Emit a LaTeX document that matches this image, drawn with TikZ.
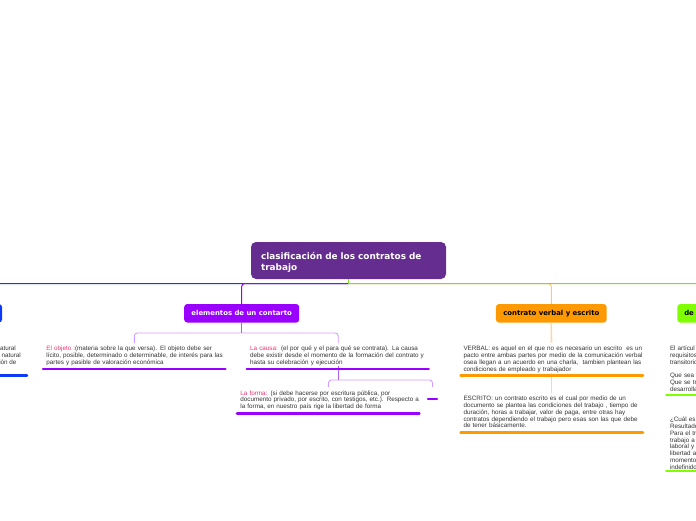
\documentclass[tikz,border=0pt]{standalone}
\usepackage{fontspec}
\setmainfont{Liberation Sans}
\newfontfamily\headfont{DejaVu Sans}
\definecolor{titlec}{HTML}{662D91}
\definecolor{vio}{HTML}{9900FF}
\definecolor{vioL}{HTML}{D29BFF}
\definecolor{vioM}{HTML}{B060F5}
\definecolor{ora}{HTML}{FF9900}
\definecolor{oraL}{HTML}{FFD7A6}
\definecolor{oraM}{HTML}{FFC777}
\definecolor{grn}{HTML}{80FF00}
\definecolor{grnL}{HTML}{7EE01A}
\definecolor{blu}{HTML}{0D3BF5}
\definecolor{txt}{HTML}{333333}
\definecolor{labpink}{HTML}{E8336E}
\newcommand\firstln{\rule{0pt}{5pt}}
\begin{document}
\begin{tikzpicture}[x=1pt,y=-1pt,
  branchbox/.style={rounded corners=3pt, inner sep=0pt, minimum height=18.5pt,
    font=\headfont\bfseries\fontsize{6.9}{8}\selectfont},
  bodytext/.style={anchor=north west, align=left, inner xsep=4.5pt, inner ysep=0pt,
    text width=176pt, text=txt, font=\fontsize{6.3}{6.75}\selectfont},
  fragtext/.style={anchor=base east, inner sep=0pt, text=txt, font=\fontsize{6.3}{6.75}\selectfont},
  uline/.style={line width=2.6pt, line cap=round},
  mainconn/.style={line width=1pt},
  subconn/.style={line width=0.9pt, rounded corners=3pt}]
\useasboundingbox (0,0) rectangle (696,520);
\clip (0,0) rectangle (696,520);

% ---- nodes ----
\node[fill=titlec, text=white, rounded corners=5pt, minimum width=195pt, minimum height=37pt,
  text width=175pt, align=left, inner sep=0pt,
  font=\headfont\bfseries\fontsize{8.9}{11}\selectfont] (title) at (348.5,260.5)
  {\rule{0pt}{10pt}clasificación de los contratos de\\trabajo};
\node[branchbox, fill=blu, minimum width=100pt] (izq) at (-48,313.3) {};
\node[branchbox, fill=vio, text=white, minimum width=115pt] (elem) at (241.7,313.3) {elementos de un contarto};
\node[branchbox, fill=ora, text=black, minimum width=110.7pt] (verb) at (551.3,313.3) {contrato verbal y escrito};
\node[branchbox, fill=grn, text=black, minimum width=100pt, text width=86pt, align=left] (dere) at (727.3,313.3) {de};

\node[bodytext] (objeto) at (41.7,345.6) {\firstln\mbox{\textcolor{labpink}{El objeto :}(materia sobre la que versa). El objeto debe ser}\\
\mbox{lícito, posible, determinado o determinable, de interés para las}\\
\mbox{partes y pasible de valoración económica}};
\node[bodytext] (causa) at (245.5,345.6) {\firstln\mbox{\textcolor{labpink}{La causa:} (el por qué y el para qué se contrata). La causa}\\
\mbox{debe existir desde el momento de la formación del contrato y}\\
\mbox{hasta su celebración y ejecución}};
\node[bodytext] (forma) at (235.7,389.9) {\firstln\mbox{\textcolor{labpink}{La forma:} (si debe hacerse por escritura pública, por}\\
\mbox{documento privado, por escrito, con testigos, etc.). Respecto a}\\
\mbox{la forma, en nuestro país rige la libertad de forma}};
\node[minimum width=8.6pt, minimum height=9pt, inner sep=0pt] (vacio) at (432.5,394.5) {};
\node[bodytext] (verbal) at (458.8,345.6) {\firstln\mbox{VERBAL: es aquel en el que no es necesario un escrito\ \ es un}\\
\mbox{pacto entre ambas partes por medio de la comunicación verbal}\\
\mbox{osea llegan a un acuerdo en una charla,\ \ tambien plantean las}\\
\mbox{condiciones de empleado y trabajador}};
\node[bodytext] (escrito) at (458.8,395.6) {\firstln\mbox{ESCRITO: un contrato escrito es el cual por medio de un}\\
\mbox{documento se plantea las condiciones del trabajo , tiempo de}\\
\mbox{duración, horas a trabajar, valor de paga, entre otras hay}\\
\mbox{contratos dependiendo el trabajo pero esas son las que debe}\\
\mbox{de tener básicamente.}};
\node[bodytext] (gA) at (665.3,345.6) {\firstln El artícul\\requisitos\\transitorio\\[6.75pt]Que sea c\\Que se tra\\desarrolla};
\node[bodytext] (gB) at (665.3,416.6) {\firstln ¿Cuál es l\\Resultado\\Para el tr\\trabajo a\\laboral y\\libertad a\\momento\\indefinido};
\node[fragtext] (fa) at (16,350.6) {atural};
\node[fragtext] (fb) at (21,357.3) {natural};
\node[fragtext] (fc) at (16.7,364) {ción de};

% ---- main connectors ----
\coordinate (hub) at ([yshift=-4.3pt]title.south);
\draw[mainconn, blu, rounded corners=3pt] (hub) -| (izq.north);
\draw[mainconn, vio, rounded corners=3pt] (hub) -| (elem.north);
\draw[mainconn, oraM, rounded corners=3pt] (hub) -| (verb.north);
\draw[mainconn, grnL, rounded corners=3pt] (hub) -| (dere.north);
\draw[mainconn, grnL] (title.south) -- (hub);

% ---- elementos subtree ----
\coordinate (ej) at ([yshift=-10.2pt]elem.south);
\draw[subconn, vioL, shorten >=2.5pt] (ej) -| (objeto.north);
\draw[subconn, vioL, shorten >=2.5pt] (ej) -| (causa.north);
\draw[line width=0.9pt, vioM] (elem.south) -- (ej);
\coordinate (cj) at (causa.south |- 0,380);
\draw[subconn, vioL, shorten >=3pt] (cj) -| (forma.north);
\draw[subconn, vioL, shorten >=3pt] (cj) -| (vacio.north);
\draw[line width=0.9pt, vioM] (causa.south) -- (cj);

% ---- verbal subtree ----
\draw[line width=1.6pt, oraL, shorten >=3pt] (verb.south) -- (verbal.north);
\draw[line width=1.6pt, oraL, shorten >=3pt] (verbal.south) -- (escrito.north);

% ---- underlines ----
\draw[uline, vio] (43,369) -- (225.4,369);
\draw[uline, vio] (246.8,369) -- (428.7,369);
\draw[uline, vio] (237,413.3) -- (419.4,413.3);
\draw[uline, vio] (428,399) -- (437,399);
\draw[uline, ora] (460.6,375.3) -- (643,375.3);
\draw[uline, ora] (460.6,432.5) -- (643,432.5);
\draw[uline, grn] (666.3,395) -- (720,395);
\draw[uline, grn] (666.3,471) -- (720,471);
\draw[uline, blu] (-20,375.3) -- (27,375.3);
\end{tikzpicture}
\end{document}
